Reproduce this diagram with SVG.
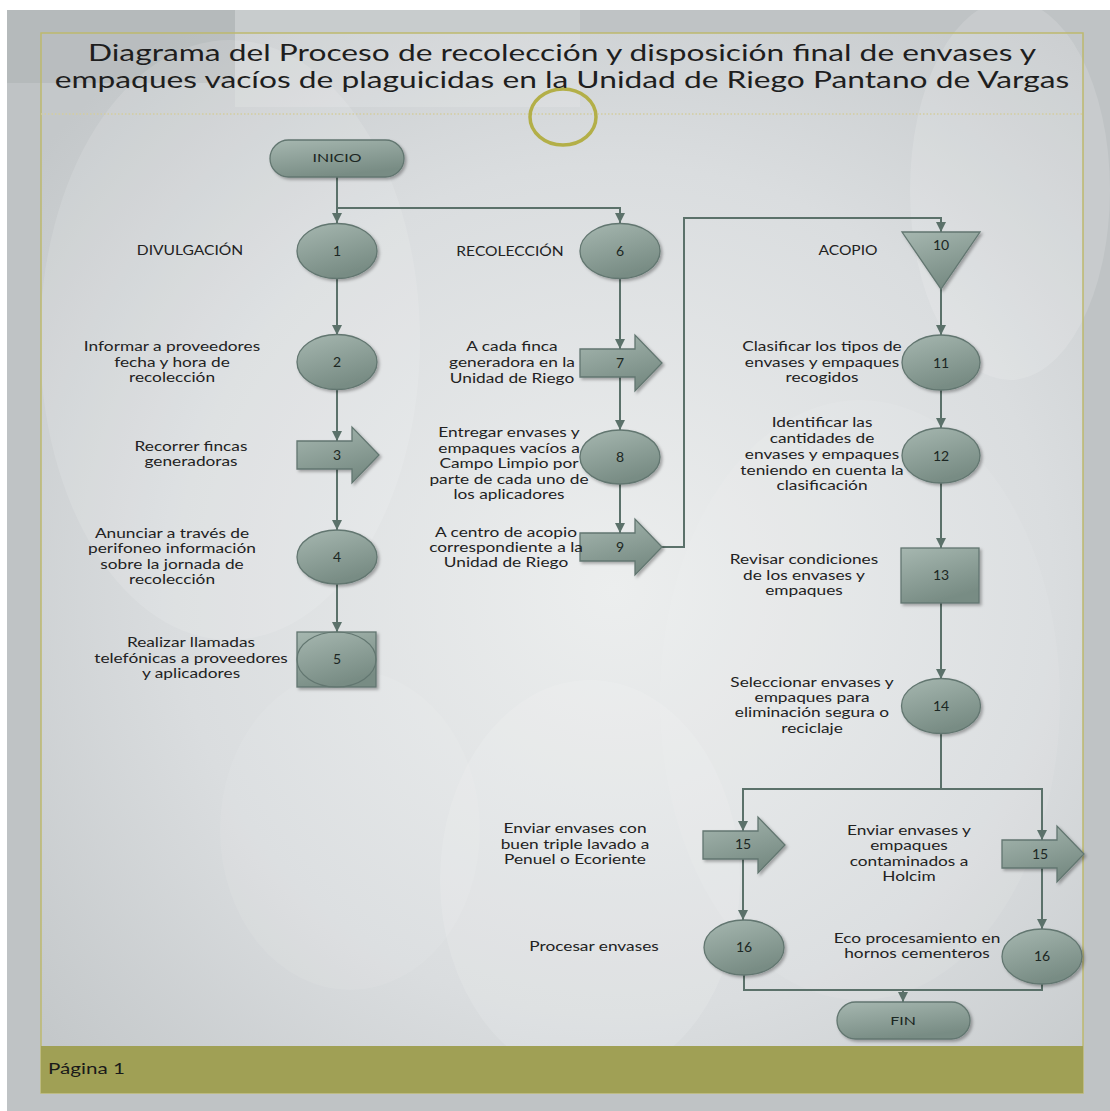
<svg xmlns="http://www.w3.org/2000/svg" width="1110" height="1111" viewBox="0 0 1110 1111">
<defs>
<style>
.lbl{font-family:Lato,"Open Sans","Liberation Sans",sans-serif;font-size:13px;fill:#222;text-anchor:middle}
.num{font-family:Lato,"Open Sans","Liberation Sans",sans-serif;font-size:14px;fill:#1c2723;text-anchor:middle}
.title{font-family:Lato,"Open Sans","Liberation Sans",sans-serif;font-size:22.5px;fill:#1e1e1e;text-anchor:middle}
.node{fill:url(#nodeGrad);stroke:#627670;stroke-width:1.3;filter:url(#shadow)}
.conn{fill:none;stroke:#5b716a;stroke-width:2}
.arrowed{marker-end:url(#ah)}
</style>
<linearGradient id="nodeGrad" x1="0" y1="0" x2="0.4" y2="1">
<stop offset="0" stop-color="#a6b7b0"/>
<stop offset="1" stop-color="#788c84"/>
</linearGradient>
<radialGradient id="pageGrad" cx="0.55" cy="0.55" r="0.7">
<stop offset="0" stop-color="#eceeee"/>
<stop offset="0.6" stop-color="#dadddf"/>
<stop offset="1" stop-color="#c4c8ca"/>
</radialGradient>
<filter id="shadow" x="-20%" y="-20%" width="150%" height="150%">
<feDropShadow dx="2" dy="2" stdDeviation="1.5" flood-color="#000" flood-opacity="0.3"/>
</filter>
<marker id="ah" markerUnits="userSpaceOnUse" markerWidth="10" markerHeight="10" viewBox="0 0 10 10" refX="10" refY="5" orient="auto">
<path d="M0,0 L10,5 L0,10 z" fill="#5b716a"/>
</marker>
</defs>

<g id="background">
<rect x="0" y="0" width="1110" height="1111" fill="#ffffff"/>
<rect x="7" y="10" width="1103" height="1101" fill="#bfc3c5"/>
<rect x="41" y="33" width="1042" height="1013" fill="url(#pageGrad)"/>
<rect x="7" y="10" width="228" height="73" fill="#9ea4a7" opacity="0.3"/>
<rect x="235" y="10" width="345" height="97" fill="#ffffff" opacity="0.15"/>
<ellipse cx="230" cy="340" rx="190" ry="300" fill="#ffffff" opacity="0.12"/>
<ellipse cx="1010" cy="190" rx="100" ry="190" fill="#ffffff" opacity="0.14"/>
<ellipse cx="590" cy="880" rx="150" ry="200" fill="#ffffff" opacity="0.12"/>
<ellipse cx="860" cy="700" rx="200" ry="300" fill="#ffffff" opacity="0.08"/>
<ellipse cx="350" cy="830" rx="130" ry="160" fill="#ffffff" opacity="0.08"/>
<rect x="41" y="33" width="1042" height="1060" fill="none" stroke="#bdb96e" stroke-width="1.5"/>
<line x1="41" y1="114" x2="1083" y2="114" stroke="#d3cda0" stroke-width="1.5" stroke-dasharray="1.5 2"/>
<ellipse cx="563" cy="117" rx="33" ry="28" fill="none" stroke="#b3af48" stroke-width="3.5"/>
<rect x="41" y="1046" width="1042" height="47" fill="#a0a055"/>
<text transform="translate(48,0) scale(1.33,1)" x="0" y="1074" style="font-family:Lato,'Open Sans',sans-serif;font-size:15.5px;fill:#1a1a1a">Página 1</text>
</g>

<g id="title">
<text class="title" transform="translate(562,0) scale(1.41,1)" x="0" y="61">Diagrama del Proceso de recolección y disposición final de envases y</text>
<text class="title" transform="translate(562,0) scale(1.41,1)" x="0" y="88">empaques vacíos de plaguicidas en la Unidad de Riego Pantano de Vargas</text>
</g>

<g id="connectors">
<path class="conn arrowed" d="M337,177 V223"/>
<path class="conn arrowed" d="M337,208 H620 V223"/>
<path class="conn arrowed" d="M337,278 V335"/>
<path class="conn arrowed" d="M337,390 V441"/>
<path class="conn arrowed" d="M337,469 V530"/>
<path class="conn arrowed" d="M337,584 V632"/>
<path class="conn arrowed" d="M620,278 V349"/>
<path class="conn arrowed" d="M620,377 V430"/>
<path class="conn arrowed" d="M620,484 V533"/>
<path class="conn arrowed" d="M662,547 H684 V218 H941 V232"/>
<path class="conn arrowed" d="M941,289 V335"/>
<path class="conn arrowed" d="M941,390 V428"/>
<path class="conn arrowed" d="M941,483 V548"/>
<path class="conn arrowed" d="M941,603 V679"/>
<path class="conn" d="M941,733 V789"/>
<path class="conn arrowed" d="M941,789 H743 V831"/>
<path class="conn arrowed" d="M941,789 H1042 V840"/>
<path class="conn arrowed" d="M743,859 V920"/>
<path class="conn arrowed" d="M1042,868 V929"/>
<path class="conn" d="M744,975 V990 H1042 V984"/>
<path class="conn arrowed" d="M903,990 V1002"/>
</g>

<g id="n-inicio"><rect class="node" x="270" y="140" width="134" height="37" rx="18.5"/><text class="num" transform="translate(337,0) scale(1.33,1)" x="0" y="162.5" style="font-size:12px">INICIO</text></g>

<g id="n1"><ellipse class="node" cx="337" cy="251" rx="40" ry="27.5"/><text class="num" x="337" y="256">1</text>
<text class="lbl" transform="translate(190,0) scale(1.2,1)"><tspan x="0" y="255.5">DIVULGACIÓN</tspan></text></g>

<g id="n2"><ellipse class="node" cx="337" cy="362" rx="40" ry="27.5"/><text class="num" x="337" y="367">2</text>
<text class="lbl" transform="translate(172,0) scale(1.33,1)"><tspan x="0" y="351.5">Informar a proveedores</tspan><tspan x="0" y="367.5">fecha y hora de</tspan><tspan x="0" y="382.5">recolección</tspan></text></g>

<g id="n3"><path class="node" d="M297,441 H352 V427 L379,455 L352,483 V469 H297 Z"/><text class="num" x="337" y="460">3</text>
<text class="lbl" transform="translate(191,0) scale(1.33,1)"><tspan x="0" y="451.5">Recorrer fincas</tspan><tspan x="0" y="466.5">generadoras</tspan></text></g>

<g id="n4"><ellipse class="node" cx="337" cy="557" rx="40" ry="27"/><text class="num" x="337" y="562">4</text>
<text class="lbl" transform="translate(172,0) scale(1.33,1)"><tspan x="0" y="538">Anunciar a través de</tspan><tspan x="0" y="553.5">perifoneo información</tspan><tspan x="0" y="569">sobre la jornada de</tspan><tspan x="0" y="584.5">recolección</tspan></text></g>

<g id="n5"><rect class="node" x="297" y="632" width="79" height="55"/><ellipse cx="336.5" cy="659.5" rx="39.5" ry="27.5" fill="none" stroke="#627670" stroke-width="1.2"/><text class="num" x="337" y="664">5</text>
<text class="lbl" transform="translate(191,0) scale(1.33,1)"><tspan x="0" y="647.5">Realizar llamadas</tspan><tspan x="0" y="663.5">telefónicas a proveedores</tspan><tspan x="0" y="678.5">y aplicadores</tspan></text></g>

<g id="n6"><ellipse class="node" cx="620" cy="251" rx="40" ry="27.5"/><text class="num" x="620" y="256">6</text>
<text class="lbl" transform="translate(510,0) scale(1.2,1)"><tspan x="0" y="256.5">RECOLECCIÓN</tspan></text></g>

<g id="n7"><path class="node" d="M580,349 H635 V335 L662,363 L635,391 V377 H580 Z"/><text class="num" x="620" y="368">7</text>
<text class="lbl" transform="translate(512,0) scale(1.33,1)"><tspan x="0" y="351.5">A cada finca</tspan><tspan x="0" y="367.5">generadora en la</tspan><tspan x="0" y="383.5">Unidad de Riego</tspan></text></g>

<g id="n8"><ellipse class="node" cx="620" cy="457" rx="40" ry="27"/><text class="num" x="620" y="462">8</text>
<text class="lbl" transform="translate(509,0) scale(1.33,1)"><tspan x="0" y="437.5">Entregar envases y</tspan><tspan x="0" y="453">empaques vacíos a</tspan><tspan x="0" y="468.5">Campo Limpio por</tspan><tspan x="0" y="484.5">parte de cada uno de</tspan><tspan x="0" y="499.5">los aplicadores</tspan></text></g>

<g id="n9"><path class="node" d="M580,533 H635 V519 L662,547 L635,575 V561 H580 Z"/><text class="num" x="620" y="552">9</text>
<text class="lbl" transform="translate(506,0) scale(1.33,1)"><tspan x="0" y="537.5">A centro de acopio</tspan><tspan x="0" y="552.5">correspondiente a la</tspan><tspan x="0" y="567.5">Unidad de Riego</tspan></text></g>

<g id="n10"><path class="node" d="M902,232 H980 L941,289 Z"/><text class="num" x="941" y="250">10</text>
<text class="lbl" transform="translate(848,0) scale(1.2,1)"><tspan x="0" y="255.5">ACOPIO</tspan></text></g>

<g id="n11"><ellipse class="node" cx="941" cy="362.5" rx="39" ry="27.5"/><text class="num" x="941" y="367.5">11</text>
<text class="lbl" transform="translate(822,0) scale(1.33,1)"><tspan x="0" y="351.5">Clasificar los tipos de</tspan><tspan x="0" y="367.5">envases y empaques</tspan><tspan x="0" y="382.5">recogidos</tspan></text></g>

<g id="n12"><ellipse class="node" cx="941" cy="455.5" rx="39" ry="27.5"/><text class="num" x="941" y="460.5">12</text>
<text class="lbl" transform="translate(822,0) scale(1.33,1)"><tspan x="0" y="427.5">Identificar las</tspan><tspan x="0" y="443.5">cantidades de</tspan><tspan x="0" y="459.5">envases y empaques</tspan><tspan x="0" y="475.5">teniendo en cuenta la</tspan><tspan x="0" y="490.5">clasificación</tspan></text></g>

<g id="n13"><rect class="node" x="901" y="548" width="78" height="55"/><text class="num" x="941" y="580">13</text>
<text class="lbl" transform="translate(804,0) scale(1.33,1)"><tspan x="0" y="564.5">Revisar condiciones</tspan><tspan x="0" y="580.5">de los envases y</tspan><tspan x="0" y="595.5">empaques</tspan></text></g>

<g id="n14"><ellipse class="node" cx="941" cy="706" rx="39.5" ry="27.5"/><text class="num" x="941" y="711">14</text>
<text class="lbl" transform="translate(812,0) scale(1.33,1)"><tspan x="0" y="687.5">Seleccionar envases y</tspan><tspan x="0" y="702.5">empaques para</tspan><tspan x="0" y="717.5">eliminación segura o</tspan><tspan x="0" y="733.5">reciclaje</tspan></text></g>

<g id="n15a"><path class="node" d="M703,831 H758 V817 L785,845 L758,873 V859 H703 Z"/><text class="num" x="743" y="849">15</text>
<text class="lbl" transform="translate(575,0) scale(1.33,1)"><tspan x="0" y="833.5">Enviar envases con</tspan><tspan x="0" y="849.5">buen triple lavado a</tspan><tspan x="0" y="864.5">Penuel o Ecoriente</tspan></text></g>

<g id="n15b"><path class="node" d="M1002,840 H1057 V826 L1084,854 L1057,882 V868 H1002 Z"/><text class="num" x="1040" y="859">15</text>
<text class="lbl" transform="translate(909,0) scale(1.33,1)"><tspan x="0" y="835.5">Enviar envases y</tspan><tspan x="0" y="850.5">empaques</tspan><tspan x="0" y="866.5">contaminados a</tspan><tspan x="0" y="881.5">Holcim</tspan></text></g>

<g id="n16a"><ellipse class="node" cx="744" cy="947.5" rx="40" ry="27.5"/><text class="num" x="744" y="952">16</text>
<text class="lbl" transform="translate(594,0) scale(1.33,1)"><tspan x="0" y="951.5">Procesar envases</tspan></text></g>

<g id="n16b"><ellipse class="node" cx="1042" cy="956.5" rx="40" ry="27.5"/><text class="num" x="1042" y="961">16</text>
<text class="lbl" transform="translate(917,0) scale(1.33,1)"><tspan x="0" y="943.5">Eco procesamiento en</tspan><tspan x="0" y="958.5">hornos cementeros</tspan></text></g>

<g id="n-fin"><rect class="node" x="837" y="1002" width="133" height="37" rx="18.5"/><text class="num" transform="translate(903,0) scale(1.33,1)" x="0" y="1025" style="font-size:12px">FIN</text></g>
</svg>
